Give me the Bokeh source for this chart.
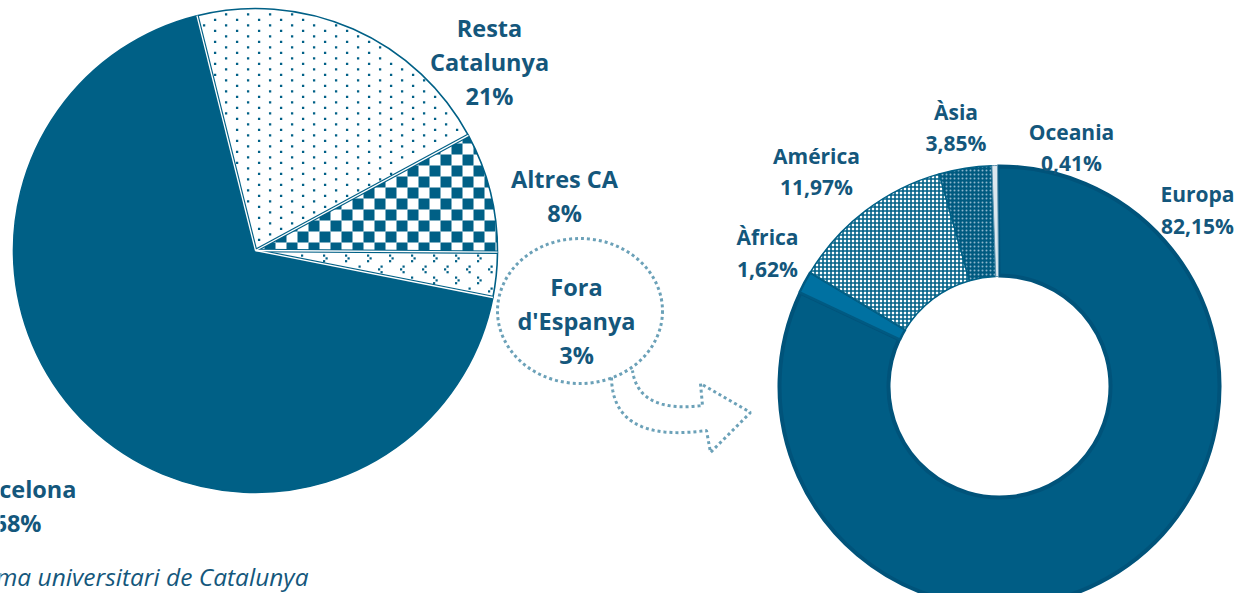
import numpy as np
from bokeh.plotting import figure
from bokeh.models import Range1d
from bokeh.core.properties import value
from bokeh.embed import file_html
from bokeh.resources import INLINE

# ---------------- data ----------------
pie_categories = ["Resta Catalunya", "Altres CA", "Fora d'Espanya", "Barcelona"]
pie_label_lines = [["Resta", "Catalunya"], ["Altres CA"], ["Fora", "d'Espanya"], ["Barcelona"]]
pie_values = [21, 8, 3, 68]

donut_categories = ["Europa", "Àfrica", "América", "Àsia", "Oceania"]
donut_values = [82.15, 1.62, 11.97, 3.85, 0.41]

source_text = "Font: Sistema universitari de Catalunya"

# ---------------- layout / style ----------------
W, H = 1236, 593
REF_H = 609
BLUE = "#006086"
TEXT = "#14577C"
DOTC = "#6BA1B8"


def py(Y):
    # reference pixel row -> data y (1 data unit = 1 px, y up)
    return REF_H - np.asarray(Y, dtype=float)


PIE_C = (255, 250)
PIE_R = 242
PIE_START = 104.0

DON_C = (999, 386)
DON_START = 90.5

pie_label_pos = {  # centre x, first baseline (px)
    "Resta Catalunya": (489, 27),
    "Altres CA": (564, 178.5),
    "Fora d'Espanya": (576, 286),
    "Barcelona": (17, 488),
}
PIE_STEP = 34

donut_label_pos = {
    "Europa": (1197, 193.5),
    "Àfrica": (767, 236.5),
    "América": (816, 155),
    "Àsia": (955.5, 111),
    "Oceania": (1071, 131),
}
DON_STEP = 31.5

pie_style = {
    "Resta Catalunya": dict(fill="white", pattern="dots"),
    "Altres CA": dict(fill="white", pattern="checker"),
    "Fora d'Espanya": dict(fill="white", pattern="divot"),
    "Barcelona": dict(fill=BLUE, pattern=None),
}

donut_style = {
    "Europa": dict(fill_color="#005D85", line_color="#00537A", line_width=4, ro=220, ri=111),
    "Àfrica": dict(fill_color="#0071A1", line_color="#005A82", line_width=2.5, ro=221, ri=110),
    "América": dict(fill_color="white", line_color=BLUE, line_width=1.5, ro=221, ri=110,
                    hatch_pattern=value("cross"), hatch_color=BLUE, hatch_scale=4, hatch_weight=1.6),
    "Àsia": dict(fill_color="#005A80", line_color=BLUE, line_width=1.5, ro=221, ri=110,
                 hatch_pattern=value("dot"), hatch_color="#8DB6CC", hatch_scale=4, hatch_weight=0.5),
    "Oceania": dict(fill_color="#DCE7EE", line_color="#5E93AE", line_width=1, ro=221, ri=110),
}


def slice_angles(values, start_deg):
    v = np.asarray(values, dtype=float)
    ends = start_deg - 360.0 * np.cumsum(v / v.sum())
    starts = np.concatenate([[start_deg], ends[:-1]])
    return np.radians(ends), np.radians(starts)


# ---------- helpers for pattern fills drawn as real marks ----------
def in_sector(x, y, cx, cy, r, a0, a1, margin):
    dx, dy = x - cx, y - cy
    d = np.hypot(dx, dy)
    ang = (np.arctan2(dy, dx) - a0) % (2 * np.pi)
    span = a1 - a0
    return ((d < r - margin) & (ang <= span)
            & (d * np.sin(np.minimum(ang, np.pi / 2)) > margin)
            & (d * np.sin(np.minimum(span - ang, np.pi / 2)) > margin))


def sector_polygon(cx, cy, r, a0, a1, n=90):
    t = np.linspace(a0, a1, n)
    return [(cx, cy)] + list(zip(cx + r * np.cos(t), cy + r * np.sin(t)))


def clip_poly(subject, clipper):
    out = list(subject)
    n = len(clipper)
    for k in range(n):
        if not out:
            break
        ax, ay = clipper[k]
        bx, by = clipper[(k + 1) % n]
        if abs(bx - ax) + abs(by - ay) < 1e-9:
            continue

        def inside(pt):
            return (bx - ax) * (pt[1] - ay) - (by - ay) * (pt[0] - ax) >= 0

        def inter(p1, p2):
            x1, y1 = p1
            x2, y2 = p2
            den = (x1 - x2) * (ay - by) - (y1 - y2) * (ax - bx)
            t = ((x1 - ax) * (ay - by) - (y1 - ay) * (ax - bx)) / den
            return (x1 + t * (x2 - x1), y1 + t * (y2 - y1))

        inp, out = out, []
        s = inp[-1]
        for e in inp:
            if inside(e):
                if not inside(s):
                    out.append(inter(s, e))
                out.append(e)
            elif inside(s):
                out.append(inter(s, e))
            s = e
    return out


p = figure(width=W, height=H, x_range=Range1d(0, W), y_range=Range1d(REF_H - H, REF_H),
           output_backend="svg", toolbar_location=None, min_border=0,
           x_axis_location=None, y_axis_location=None)
p.grid.visible = False
p.outline_line_color = None
p.background_fill_color = "white"
p.border_fill_color = "white"

# ---------------- pie ----------------
pcx, pcy = PIE_C[0], float(py(PIE_C[1]))
pe, ps = slice_angles(pie_values, PIE_START)

for i, cat in enumerate(pie_categories):
    p.wedge(x=pcx, y=pcy, radius=PIE_R, start_angle=pe[i], end_angle=ps[i],
            fill_color=pie_style[cat]["fill"], line_color=None)

for i, cat in enumerate(pie_categories):
    pat = pie_style[cat]["pattern"]
    a0, a1 = pe[i], ps[i]
    if pat == "dots":
        X, Yr = [], []
        for j in range(0, 100):
            Yp = 1.8 + 5.5 * j
            off = 0 if j % 2 == 0 else 11
            for k in range(0, 40):
                X.append(4.5 + off + 22 * k)
                Yr.append(Yp)
        X = np.array(X) + 1.1
        Yd = py(np.array(Yr) + 1.1)
        m = in_sector(X, Yd, pcx, pcy, PIE_R, a0, a1, 2.5)
        p.rect(x=X[m], y=Yd[m], width=2.3, height=2.3, fill_color=BLUE, line_color=None)
    elif pat == "checker":
        clipper = sector_polygon(pcx, pcy, PIE_R, a0, a1)
        xs, ys = [], []
        for j in range(0, 56):
            for k in range(0, 56):
                if (j + k) % 2:
                    continue
                x0, Y0 = 11 * k, 11 * j
                sq = [(x0, float(py(Y0 + 11))), (x0 + 11, float(py(Y0 + 11))),
                      (x0 + 11, float(py(Y0))), (x0, float(py(Y0)))]
                c = clip_poly(sq, clipper)
                if len(c) >= 3:
                    xs.append([q[0] for q in c])
                    ys.append([q[1] for q in c])
        p.patches(xs=xs, ys=ys, fill_color=BLUE, line_color=None)
    elif pat == "divot":
        marks = [(6, 1), (3.5, 3.8), (6, 6.6), (14.5, 12), (17, 14.8), (14.5, 17.6)]
        X, Yr = [], []
        for j in range(0, 28):
            for k in range(0, 40):
                for (mx, my) in marks:
                    X.append(22 * k + mx + 1.1)
                    Yr.append(22 * j + my + 1.1)
        X = np.array(X)
        Yd = py(np.array(Yr))
        m = in_sector(X, Yd, pcx, pcy, PIE_R, a0, a1, 2.5)
        p.rect(x=X[m], y=Yd[m], width=2.2, height=2.2, fill_color=BLUE, line_color=None)

for i, cat in enumerate(pie_categories):
    p.wedge(x=pcx, y=pcy, radius=PIE_R, start_angle=pe[i], end_angle=ps[i],
            fill_color=None, line_color=BLUE, line_width=1.6)

bounds = np.concatenate([[ps[0]], pe[:-1]])
bx = pcx + PIE_R * np.cos(bounds)
by = pcy + PIE_R * np.sin(bounds)
n_b = len(bounds)
p.segment(x0=[pcx] * n_b, y0=[pcy] * n_b, x1=bx, y1=by, line_color=BLUE, line_width=3.6)
p.segment(x0=[pcx] * n_b, y0=[pcy] * n_b, x1=bx, y1=by, line_color="white", line_width=1.3)

# pie labels
lx, ly, lt = [], [], []
for i, cat in enumerate(pie_categories):
    cx, y0 = pie_label_pos[cat]
    lines = pie_label_lines[i] + [f"{pie_values[i]}%"]
    for k, s in enumerate(lines):
        lx.append(cx)
        ly.append(float(py(y0 + k * PIE_STEP)))
        lt.append(s)
p.text(x=lx, y=ly, text=lt, text_font=value("Open Sans"), text_font_style="bold",
       text_font_size="23.5px", text_color=TEXT, text_align="center", text_baseline="alphabetic")

# source note
p.text(x=[308], y=[float(py(576))], text=[source_text], text_font=value("Open Sans"),
       text_font_style="italic", text_font_size="24.5px", text_color=TEXT,
       text_align="right", text_baseline="alphabetic")

# ---------------- callout (dotted circle + arrow) ----------------
p.ellipse(x=579.5, y=float(py(310.5)), width=165, height=145, fill_color=None,
          line_color=DOTC, line_width=3, line_dash="3 3")


def qbez(p0, c, p1, n=40):
    t = np.linspace(0, 1, n)[:, None]
    return (1 - t) ** 2 * np.array(p0) + 2 * (1 - t) * t * np.array(c) + t ** 2 * np.array(p1)


outer = qbez((611, 377), (612, 443), (706, 430))
inner = qbez((632, 370), (638, 413), (702, 405))
head = np.array([(710, 452), (750, 412), (700, 383)])
path = np.vstack([outer, head, inner[::-1]])
p.line(x=path[:, 0], y=py(path[:, 1]), line_color=DOTC, line_width=3, line_dash="3 3")

# ---------------- donut ----------------
dcx, dcy = DON_C[0], float(py(DON_C[1]))
de, ds = slice_angles(donut_values, DON_START)
for i, cat in enumerate(donut_categories):
    st = dict(donut_style[cat])
    ro = st.pop("ro")
    ri = st.pop("ri")
    p.annular_wedge(x=dcx, y=dcy, inner_radius=ri, outer_radius=ro,
                    start_angle=de[i], end_angle=ds[i], **st)

dx, dy, dt = [], [], []
for i, cat in enumerate(donut_categories):
    cx, y0 = donut_label_pos[cat]
    lines = [cat, f"{donut_values[i]:.2f}".replace(".", ",") + "%"]
    for k, s in enumerate(lines):
        dx.append(cx)
        dy.append(float(py(y0 + k * DON_STEP)))
        dt.append(s)
p.text(x=dx, y=dy, text=dt, text_font=value("Open Sans"), text_font_style="bold",
       text_font_size="21px", text_color=TEXT, text_align="center", text_baseline="alphabetic")

open("out.html", "w").write(file_html(p, INLINE))
